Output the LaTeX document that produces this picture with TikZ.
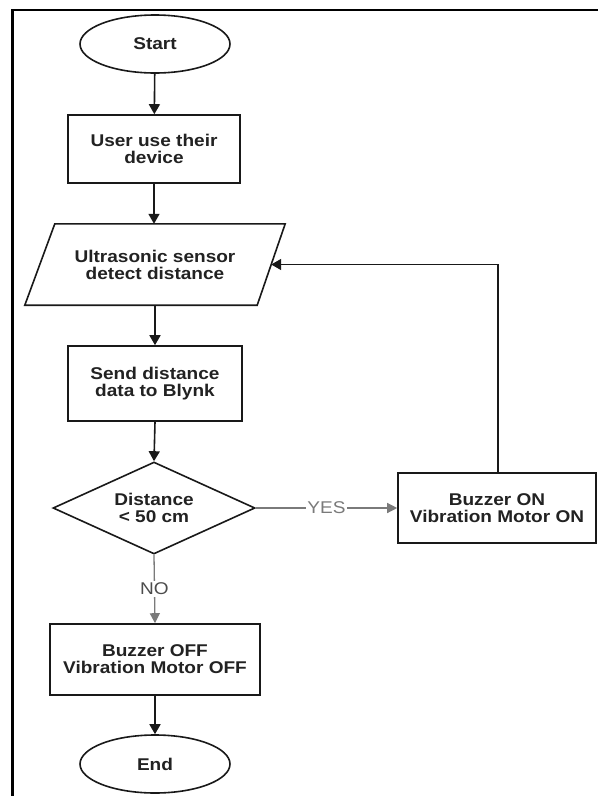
\documentclass[tikz,border=0pt]{standalone}
\usepackage{fontspec}
\setmainfont{Liberation Sans}[FakeStretch=1.12]
\usetikzlibrary{shapes.geometric,arrows.meta}
\definecolor{txt}{HTML}{222222}
\definecolor{lgray}{HTML}{7A7A7A}
\tikzset{
  base/.style={draw=black!90, line width=1.6pt, text=txt, inner sep=0pt, align=center,
    font=\fontsize{17}{17}\selectfont\bfseries},
  procbox/.style={base, rectangle},
  termin/.style={base, ellipse, minimum width=150pt, minimum height=58pt},
  decis/.style={base, diamond, aspect=2.2, minimum width=202pt, minimum height=92pt},
  iobox/.style={rectangle, inner sep=0pt, align=center, text=txt,
    font=\fontsize{17}{17}\selectfont\bfseries, minimum width=232pt, minimum height=81pt},
  arr/.style={draw=black!90, line width=1.6pt, -{Triangle[length=10pt,width=11pt]}},
  garr/.style={draw=lgray, line width=1.3pt, -{Triangle[length=10pt,width=10pt]}},
  glabel/.style={fill=white, inner sep=1.5pt, text=lgray, font=\fontsize{17}{17}\selectfont},
}
\begin{document}
\begin{tikzpicture}[x=1pt,y=-1pt]
\useasboundingbox (0,0) rectangle (598,796);
\fill[white] (0,0) rectangle (598,796);
\draw[line width=2.5pt, line join=miter] (12.5,796) -- (12.5,10) -- (598,10);

\node[termin] (start) at (155,44) {Start};
\node[procbox, minimum width=172pt, minimum height=68pt] (user) at (154,149) {User use their\\device};
\node[iobox] (para) at (155,264.5) {Ultrasonic sensor\\detect distance};
\draw[draw=black!90, line width=1.6pt, line join=miter]
  ([xshift=-14pt]para.south west) -- ([xshift=-14pt]para.south east)
  -- ([xshift=14pt]para.north east) -- ([xshift=16pt]para.north west) -- cycle;
\node[procbox, minimum width=174pt, minimum height=75pt] (send) at (155,383.5) {Send distance\\data to Blynk};
\node[decis] (dec) at (154,508) {Distance\\< 50 cm};
\node[procbox, minimum width=198pt, minimum height=70pt] (on) at (497,508) {Buzzer ON\\Vibration Motor ON};
\node[procbox, minimum width=210pt, minimum height=71pt] (off) at (155,659.5) {Buzzer OFF\\Vibration Motor OFF};
\node[termin] (end) at (155,764) {End};

\draw[arr] (start) -- (user);
\draw[arr] (user) -- (user |- para.north);
\draw[arr] (para.south -| send) -- (send);
\draw[arr] (send.south) -- (dec.north);
\draw[garr] (dec.east) -- node[glabel] {YES} (on.west);
\draw[garr] (dec.south) -- node[glabel, text=black!70] {NO} (off.north);
\draw[arr] (off) -- (end);
\draw[arr] ([xshift=1pt]on.north) |- (para.east);
\end{tikzpicture}
\end{document}
